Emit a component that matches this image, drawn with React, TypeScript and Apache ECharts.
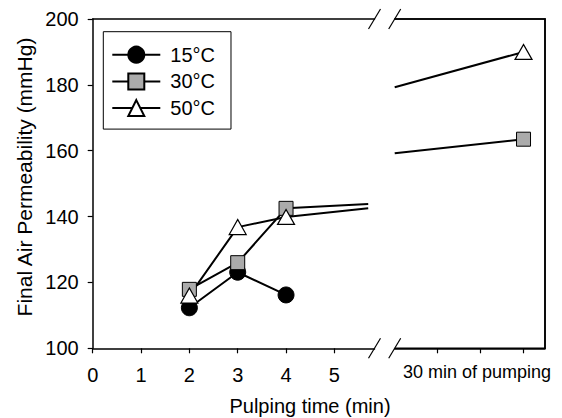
import React, { useEffect, useRef } from 'react';
import * as echarts from 'echarts';

// ---- data ----
const seriesNames = ['15°C', '30°C', '50°C'];
const pulpingTimes = [2, 3, 4];
const perm15 = [112.3, 123.1, 116.2];
const perm30 = [117.9, 126.0, 142.5];
const perm50 = [116.0, 136.8, 139.9];
// trailing segment toward the axis break
const leftTailX = 5.7;
const tail30 = 143.8;
const tail50 = 142.5;
// after the break (minutes of pumping)
const pumpTimes = [0, 30];
const pump30 = [159.2, 163.5];
const pump50 = [179.3, 190.0];
// tick values
const leftTickValues = [0, 1, 2, 3, 4, 5];
const rightTickValues = [10, 20, 30];
const yTickMin = 100;
const yTickMax = 200;
const yTickStep = 20;

const FONT = 'Liberation Sans, Arial, Helvetica, sans-serif';
const TOP = 19;
const H = 329.3;
const BOTTOM_Y = TOP + H;
const BREAK1 = 374.5;
const BREAK2 = 394.7;
const RIGHT = 545;

const lineStyle = { color: '#000', width: 2 };

function axisLine() {
  return { show: true, onZero: false, lineStyle: { color: '#000', width: 1.5 } };
}

function slash(cx: number, cy: number) {
  return {
    type: 'line',
    shape: { x1: cx - 6, y1: cy + 10, x2: cx + 6, y2: cy - 10 },
    style: { stroke: '#000', lineWidth: 1.2 },
    z: 100,
  };
}

export default function App() {
  const ref = useRef<HTMLDivElement>(null);
  useEffect(() => {
    const chart = echarts.init(ref.current!, null, { renderer: 'svg' });
    const option: any = {
      animation: false,
      backgroundColor: '#fff',
      textStyle: { fontFamily: FONT },
      grid: [
        { left: 92.7, top: TOP, width: BREAK1 - 92.7, height: H },
        { left: BREAK2, top: TOP, width: RIGHT - BREAK2, height: H },
      ],
      xAxis: [
        {
          gridIndex: 0, type: 'value', min: 0, max: 5.83, position: 'bottom',
          axisLine: axisLine(),
          axisTick: { show: true, inside: false, length: 5, customValues: leftTickValues, lineStyle: { color: '#000', width: 1.2 } },
          axisLabel: { customValues: leftTickValues, fontSize: 20, color: '#000', margin: 17, fontFamily: FONT },
          splitLine: { show: false },
        },
        {
          gridIndex: 1, type: 'value', min: 0, max: 35, position: 'bottom',
          axisLine: axisLine(),
          axisTick: { show: true, inside: false, length: 5, customValues: rightTickValues, lineStyle: { color: '#000', width: 1.2 } },
          axisLabel: { show: false },
          splitLine: { show: false },
        },
        {
          gridIndex: 0, type: 'value', min: 0, max: 5.83, position: 'top',
          axisLine: axisLine(), axisTick: { show: false }, axisLabel: { show: false }, splitLine: { show: false },
        },
        {
          gridIndex: 1, type: 'value', min: 0, max: 35, position: 'top',
          axisLine: axisLine(), axisTick: { show: false }, axisLabel: { show: false }, splitLine: { show: false },
        },
      ],
      yAxis: [
        {
          gridIndex: 0, type: 'value', min: yTickMin, max: yTickMax, interval: yTickStep, position: 'left',
          axisLine: axisLine(),
          axisTick: { show: true, inside: false, length: 5, lineStyle: { color: '#000', width: 1.2 } },
          axisLabel: { fontSize: 20, color: '#000', margin: 14, fontFamily: FONT },
          splitLine: { show: false },
        },
        {
          gridIndex: 1, type: 'value', min: yTickMin, max: yTickMax, interval: yTickStep, position: 'right',
          axisLine: axisLine(),
          axisTick: { show: false },
          axisLabel: { show: false },
          splitLine: { show: false },
        },
      ],
      legend: {
        data: seriesNames,
        orient: 'vertical',
        left: 103.3,
        top: 31.7,
        padding: [13, 16, 11, 8],
        borderColor: '#000',
        borderWidth: 1,
        itemWidth: 48,
        itemHeight: 20,
        itemGap: 6.7,
        selectedMode: false,
        textStyle: { fontSize: 20, color: '#000', fontFamily: FONT, padding: [0, 0, 0, 5] },
      },
      series: [
        {
          type: 'line', name: seriesNames[0], xAxisIndex: 0, yAxisIndex: 0,
          data: pulpingTimes.map((x, i) => [x, perm15[i]]),
          symbol: 'circle', symbolSize: 16,
          itemStyle: { color: '#000', borderColor: '#000', borderWidth: 1 },
          lineStyle,
        },
        {
          type: 'line', name: seriesNames[1], xAxisIndex: 0, yAxisIndex: 0,
          data: [...pulpingTimes.map((x, i) => [x, perm30[i]]), { value: [leftTailX, tail30], symbol: 'none' }],
          symbol: 'rect', symbolSize: 14,
          itemStyle: { color: '#ababab', borderColor: '#000', borderWidth: 1 },
          lineStyle,
        },
        {
          type: 'line', name: seriesNames[2], xAxisIndex: 0, yAxisIndex: 0,
          data: [...pulpingTimes.map((x, i) => [x, perm50[i]]), { value: [leftTailX, tail50], symbol: 'none' }],
          symbol: 'triangle', symbolSize: [17, 15],
          itemStyle: { color: '#fff', borderColor: '#000', borderWidth: 1.2 },
          lineStyle,
        },
        {
          type: 'line', name: seriesNames[1], xAxisIndex: 1, yAxisIndex: 1,
          data: [{ value: [pumpTimes[0], pump30[0]], symbol: 'none' }, [pumpTimes[1], pump30[1]]],
          symbol: 'rect', symbolSize: 14,
          itemStyle: { color: '#ababab', borderColor: '#000', borderWidth: 1 },
          lineStyle,
        },
        {
          type: 'line', name: seriesNames[2], xAxisIndex: 1, yAxisIndex: 1,
          data: [{ value: [pumpTimes[0], pump50[0]], symbol: 'none' }, [pumpTimes[1], pump50[1]]],
          symbol: 'triangle', symbolSize: [17, 15],
          itemStyle: { color: '#fff', borderColor: '#000', borderWidth: 1.2 },
          lineStyle,
        },
      ],
      graphic: [
        slash(BREAK1, TOP), slash(BREAK2, TOP),
        slash(BREAK1, BOTTOM_Y), slash(BREAK2, BOTTOM_Y),
        {
          type: 'polyline',
          shape: { points: [[BREAK2, TOP], [RIGHT, TOP], [RIGHT, BOTTOM_Y], [BREAK2, BOTTOM_Y]] },
          style: { stroke: '#000', lineWidth: 1.6, fill: null },
          z: 100,
        },
        {
          type: 'text', x: 24, y: 177, rotation: Math.PI / 2,
          style: { text: 'Final Air Permeability (mmHg)', fontSize: 21, fill: '#000', align: 'center', verticalAlign: 'middle', fontFamily: FONT },
        },
        {
          type: 'text', x: 310, y: 406,
          style: { text: 'Pulping time (min)', fontSize: 20, fill: '#000', align: 'center', verticalAlign: 'middle', fontFamily: FONT },
        },
        {
          type: 'text', x: 403, y: 372,
          style: { text: '30 min of pumping', fontSize: 18, fill: '#000', align: 'left', verticalAlign: 'middle', fontFamily: FONT },
        },
      ],
    };
    chart.setOption(option);
    return () => chart.dispose();
  }, []);
  return (
    <div
      ref={ref}
      style={{ position: 'fixed', left: 0, top: 0, width: 562, height: 418, background: '#fff' }}
    />
  );
}
